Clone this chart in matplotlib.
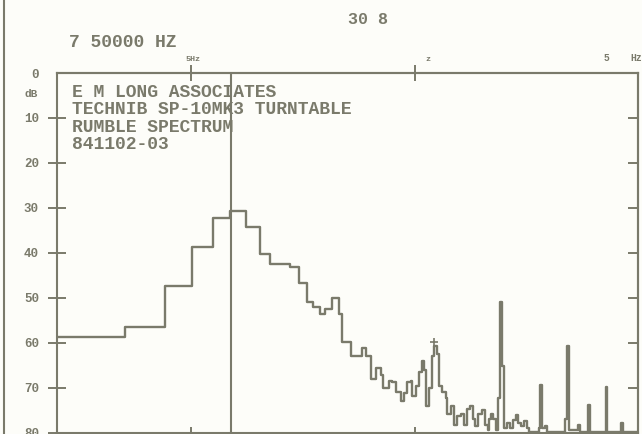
import matplotlib
matplotlib.use('Agg')
import matplotlib.pyplot as plt
from matplotlib.lines import Line2D

plt.rcParams['font.family'] = ['Liberation Mono', 'DejaVu Sans Mono']
plt.rcParams['font.weight'] = 'bold'

ink = '#7a7a6b'
paper = '#fdfdf9'

# rumble spectrum (dB below reference, steps)
freq_hz = [1.25, 2.52, 3.80, 5.02, 6.23, 7.42, 8.75, 10.1, 11.2, 13.75,
           15.1, 16.4, 17.6, 18.9, 19.9, 21.2, 22.8, 23.7, 26.0, 29.1,
           30.4, 32.0, 33.6, 35.4, 36.2, 38.4, 39.7, 41.3, 43.5, 44.9,
           46.3, 48.2, 48.7, 50.7, 52.3, 54.0, 55.1, 56.2, 58.0, 59.8,
           61.1, 63.0, 64.3, 66.3, 69.1, 69.8, 72.7, 75.0, 77.3, 80.6,
           83.1, 85.7, 88.4, 91.2, 93.1, 96.0, 100.0, 103.1, 106.4, 107.5,
           109.7, 112.0, 115.5, 117.9, 120.4, 122.8, 125.4, 129.3, 133.4, 137.5,
           141.8, 144.8, 149.3, 154.0, 158.8, 162.2, 179.7, 182.0, 185.5, 191.0,
           196.0, 235.0, 240.0, 246.0, 268.0, 275.0, 300.0, 306.0, 358.0, 365.0,
           418.0, 427.0, 500.0]
level_db = [58.7, 56.5, 47.4, 38.8, 32.3, 30.6, 34.3, 40.3, 42.5, 43.2,
            46.7, 51.0, 52.1, 53.6, 52.5, 50.1, 53.6, 59.8, 62.9, 61.1,
            62.9, 68.0, 65.6, 67.3, 70.2, 68.5, 68.7, 70.9, 72.9, 71.3,
            68.7, 68.5, 71.8, 69.6, 66.5, 64.0, 66.2, 74.0, 70.2, 62.9,
            60.7, 62.5, 69.6, 70.9, 72.4, 75.8, 74.0, 78.4, 76.4, 75.8,
            78.4, 74.7, 74.0, 76.9, 78.6, 75.8, 75.1, 78.4, 79.5, 76.9,
            75.8, 76.9, 79.5, 72.4, 51.0, 65.1, 79.1, 77.9, 79.1, 77.3,
            76.2, 77.9, 78.6, 77.5, 79.1, 79.8, 79.0, 69.4, 79.0, 78.6,
            79.8, 77.0, 60.7, 79.5, 78.4, 79.8, 73.8, 79.8, 69.8, 79.8,
            77.8, 79.8, 79.8]

cursor_hz = 7.5
peak_hz = 61.1
peak_db = 59.8

db_ticks = [0, 10, 20, 30, 40, 50, 60, 70, 80]
db_labels = ['0', '10', '20', '30', '40', '50', '60', '70', '80']
right_ticks = [10, 20, 30, 40, 50, 60, 70]
freq_ticks = [5, 50]

header = ['E M LONG ASSOCIATES', 'TECHNIB SP-10MK3 TURNTABLE',
          'RUMBLE SPECTRUM', '841102-03']
cursor_text = '7 50000 HZ'
level_text = '30 8'

W, H = 642, 434
fig = plt.figure(figsize=(W / 100, H / 100), dpi=100, facecolor=paper)


def fx(x):
    return x / W


def fy(y):
    return 1 - y / H


ax = fig.add_axes([fx(57), fy(432.5), fx(638) - fx(57), fy(73) - fy(432.5)])
ax.set_facecolor(paper)
ax.set_xscale('log')
ax.set_xlim(1.25, 500)
ax.set_ylim(80, 0)

ax.plot(freq_hz, level_db, drawstyle='steps-post', color=ink, lw=1.7)
ax.axvline(cursor_hz, color=ink, lw=1.5)
ax.plot([peak_hz], [peak_db], marker='+', ms=6, mew=1.2, color=ink)

for s in ax.spines.values():
    s.set_color(ink)
    s.set_linewidth(1.5)

ax.set_yticks(db_ticks)
ax.set_yticklabels(db_labels)
ax.tick_params(axis='y', direction='inout', length=13, width=1.4, color=ink,
               labelcolor=ink, labelsize=9, pad=6.5)
ax.yaxis.get_major_ticks()[0].tick1line.set_visible(False)

ax.set_xticks(freq_ticks)
ax.xaxis.set_minor_locator(plt.NullLocator())
ax.tick_params(axis='x', direction='in', length=4, width=1.4, color=ink,
               labelbottom=False)

top = ax.secondary_xaxis('top')
top.set_xticks(freq_ticks)
top.xaxis.set_minor_locator(plt.NullLocator())
top.tick_params(direction='inout', length=11, width=1.4, color=ink, labeltop=False)
top.spines['top'].set_color(ink)
top.spines['top'].set_linewidth(1.5)

right = ax.secondary_yaxis('right')
right.set_yticks(right_ticks)
right.tick_params(direction='in', length=7, width=1.4, color=ink, labelright=False)
right.spines['right'].set_color(ink)
right.spines['right'].set_linewidth(1.5)

# plotter annotations
for i, line in enumerate(header):
    fig.text(fx(72), fy(97 + 17.3 * i), line, color=ink, fontsize=13, va='baseline')
fig.text(fx(69), fy(47), cursor_text, color=ink, fontsize=13, va='baseline')
fig.text(fx(348), fy(24), level_text, color=ink, fontsize=12, va='baseline')
fig.text(fx(193), fy(61), '5Hz', color=ink, fontsize=6, ha='center', va='baseline')
fig.text(fx(428), fy(61), 'z', color=ink, fontsize=6, ha='center', va='baseline')
fig.text(fx(606), fy(61), '5', color=ink, fontsize=7, ha='center', va='baseline')
fig.text(fx(630), fy(61), 'Hz', color=ink, fontsize=7, ha='left', va='baseline')
fig.text(fx(31), fy(94), 'dB', color=ink, fontsize=8, ha='center', va='center')

# left edge of the scanned sheet
fig.add_artist(Line2D([fx(3.5), fx(3.5)], [0, 1], color=ink, lw=1.5))

fig.savefig('out.png', dpi=100, facecolor=paper)
